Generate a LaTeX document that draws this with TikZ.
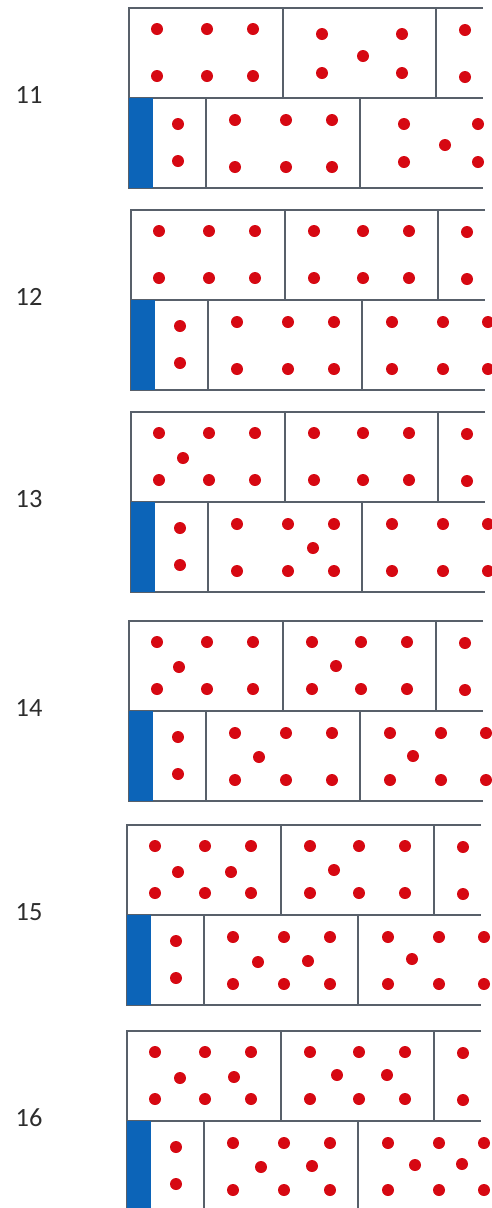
\documentclass[tikz,border=0pt]{standalone}
\usepackage{fontspec}
\setmainfont{Carlito}

\definecolor{linegray}{RGB}{88,96,106}
\definecolor{barblue}{RGB}{12,100,184}
\definecolor{dotred}{RGB}{214,8,18}
\definecolor{labgray}{RGB}{45,45,45}

\tikzset{
  rule/.style={draw=linegray,line width=1.2pt},
  bar/.style={fill=barblue},
  dot/.style={fill=dotred},
  lab/.style={font=\fontsize{15}{17}\selectfont,text=labgray}
}

\begin{document}
\begin{tikzpicture}[x=0.02cm,y=-0.02cm]
\useasboundingbox (0,0) rectangle (492,1208);
\clip (0,0) rectangle (492,1208);

% the six rows of blocks, with the dots every row has
\foreach \lab/\ox/\oy in {11/129/8,12/131/210,13/131/412,14/129/621,15/127/825,16/127/1031}{
  \begin{scope}[shift={(\ox,\oy)}]
    \draw[rule] (354,0) -- (0,0) -- (0,180) -- (354,180) (0,90) -- (354,90)
      (154,0) -- (154,90) (307,0) -- (307,90) (77,90) -- (77,180) (231,90) -- (231,180);
    \fill[bar] (0,90) rectangle (24,180);
    \foreach \x in {28,78,124} \foreach \y in {21,68} \fill[dot] (\x,\y) circle (6);
    \foreach \x in {106,157,203} \foreach \y in {112,159} \fill[dot] (\x,\y) circle (6);
    \foreach \y in {22,69} \fill[dot] (336,\y) circle (6);
    \foreach \y in {116,153} \fill[dot] (49,\y) circle (6);
  \end{scope}
  \node[lab] (n\lab) at (29,\oy+87) {\lab};
}

% full grids in the middle blocks from 12 on
\foreach \ox/\oy in {131/210,131/412,129/621,127/825,127/1031}{
  \begin{scope}[shift={(\ox,\oy)}]
    \foreach \x in {183,232,278} \foreach \y in {21,68} \fill[dot] (\x,\y) circle (6);
    \foreach \x in {261,312,357} \foreach \y in {112,159} \fill[dot] (\x,\y) circle (6);
  \end{scope}
}

% dots that differ from row to row
\foreach \ox/\oy/\more in {
  129/8/{193/26,273/26,234/48,193/65,273/65,275/116,349/116,316/137,275/154,349/154},
  131/412/{52/46,182/136},
  129/621/{50/46,207/45,130/136,284/135},
  127/825/{51/47,104/47,207/45,131/137,181/136,285/134},
  127/1031/{53/47,107/46,210/44,260/44,134/136,185/135,288/134,335/133}}{
  \begin{scope}[shift={(\ox,\oy)}]
    \foreach \x/\y in \more \fill[dot] (\x,\y) circle (6);
  \end{scope}
}
\end{tikzpicture}
\end{document}
